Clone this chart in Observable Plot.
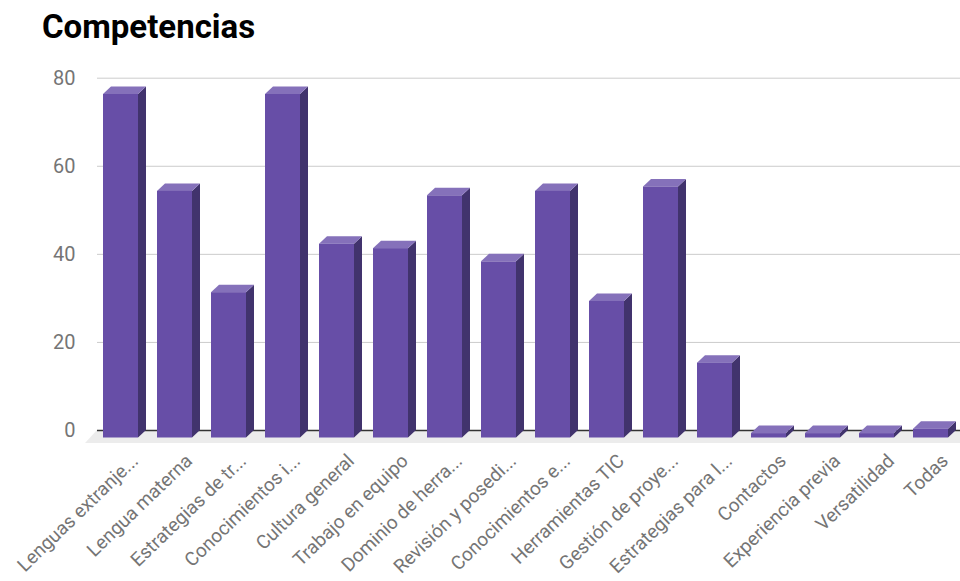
<!DOCTYPE html>
<html><head><meta charset="utf-8">
<script src="https://cdn.jsdelivr.net/npm/d3@7"></script>
<script src="https://cdn.jsdelivr.net/npm/@observablehq/plot@0.6"></script>
<style>
html,body{margin:0;padding:0;background:#fff;}
#wrap{position:relative;width:960px;height:581px;overflow:hidden;font-family:Roboto,sans-serif;}
#title{position:absolute;left:42px;top:10px;font-size:33px;font-weight:700;line-height:33px;color:#000;white-space:nowrap;}
#chart{position:absolute;left:0;top:50px;}
</style></head><body>
<div id="wrap"><div id="title">Competencias</div><div id="chart"></div></div>
<script>
const categories = [
  "Lenguas extranje...", "Lengua materna", "Estrategias de tr...", "Conocimientos i...",
  "Cultura general", "Trabajo en equipo", "Dominio de herra...", "Revisión y posedi...",
  "Conocimientos e...", "Herramientas TIC", "Gestión de proye...", "Estrategias para l...",
  "Contactos", "Experiencia previa", "Versatilidad", "Todas"
];
const values = [78, 56, 33, 78, 44, 43, 55, 40, 56, 31, 57, 17, 1, 1, 1, 2];
const yTicks = [0, 20, 40, 60, 80];
const gridTicks = [20, 40, 60, 80];

const data = categories.map((c, i) => ({c, v: values[i]}));

const DX = 8, DY = 7.5;          // 3D depth offset (px)
const FRONT = "#674ea7", SIDE = "#41336d", TOP = "#8571ba";

function floorMark(index, scales, values, dims) {
  const y0 = scales.y(0);
  const L = dims.marginLeft, R = dims.width - dims.marginRight;
  const g = d3.create("svg:g");
  g.append("path")
    .attr("d", `M${L},${y0}L${R},${y0}L${R},${y0 + 13}L${L - 12},${y0 + 13}Z`)
    .attr("fill", "#ececec");
  return g.node();
}

function depthMark(index, scales) {
  const x = scales.x, y = scales.y;
  const bw = typeof x.bandwidth === "function" ? x.bandwidth() : x.bandwidth;
  const y0 = y(0);
  const g = d3.create("svg:g");
  for (const d of data) {
    const xl = x(d.c), xr = xl + bw, yt = y(d.v);
    g.append("path")
      .attr("d", `M${xr},${yt}L${xr},${y0}L${xr - DX},${y0 + DY}L${xr - DX},${yt + DY}Z`)
      .attr("fill", SIDE);
    g.append("path")
      .attr("d", `M${xl},${yt}L${xr},${yt}L${xr - DX},${yt + DY}L${xl - DX},${yt + DY}Z`)
      .attr("fill", TOP);
  }
  return g.node();
}

const chart = Plot.plot({
  width: 960,
  height: 531,
  marginLeft: 97,
  marginRight: 0,
  marginTop: 0,
  marginBottom: 0,
  style: {fontFamily: "Roboto, sans-serif", fontSize: "20px", color: "#757575", background: "transparent", overflow: "visible"},
  x: {type: "band", domain: categories, range: [108, 959], paddingInner: 0.357, paddingOuter: 0, axis: null},
  y: {domain: [0, 80], range: [380, 27.7], ticks: yTicks, tickSize: 0, tickPadding: 22, label: null, grid: false},
  marks: [
    floorMark,
    Plot.ruleY(gridTicks, {stroke: "#cccccc", strokeWidth: 1}),
    Plot.ruleY([0], {stroke: "#333333", strokeWidth: 1.5}),
    depthMark,
    Plot.barY(data, {x: "c", y: "v", fill: FRONT, dx: -DX, dy: DY, inset: 0}),
    Plot.text(data, {x: "c", y: () => 0, text: "c", rotate: -44, textAnchor: "end", lineAnchor: "top",
      dy: 22, dx: 1, fontSize: 19, fill: "#757575"})
  ]
});
document.getElementById("chart").appendChild(chart);
</script>
</body></html>
